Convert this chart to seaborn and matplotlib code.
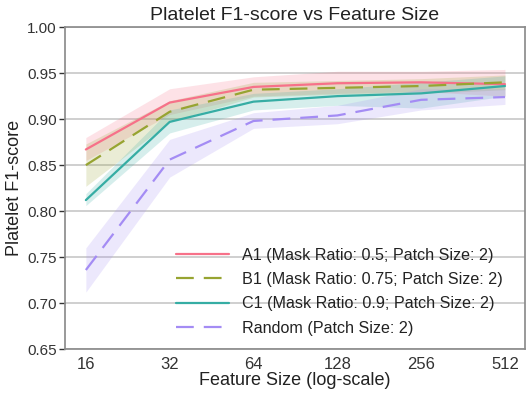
import matplotlib
matplotlib.use("Agg")
import matplotlib.pyplot as plt
import seaborn as sns
import pandas as pd

# Values
feature_sizes = [16, 32, 64, 128, 256, 512]
models = [
    "A1 (Mask Ratio: 0.5; Patch Size: 2)",
    "B1 (Mask Ratio: 0.75; Patch Size: 2)",
    "C1 (Mask Ratio: 0.9; Patch Size: 2)",
    "Random (Patch Size: 2)",
]
f1_a1 = [0.867, 0.918, 0.935, 0.939, 0.940, 0.938]
f1_b1 = [0.850, 0.908, 0.932, 0.934, 0.936, 0.940]
f1_c1 = [0.812, 0.897, 0.919, 0.925, 0.928, 0.936]
f1_rand = [0.736, 0.856, 0.898, 0.904, 0.921, 0.924]

low_a1 = [0.855, 0.905, 0.925, 0.928, 0.930, 0.925]
high_a1 = [0.880, 0.933, 0.946, 0.952, 0.952, 0.954]
low_b1 = [0.827, 0.897, 0.924, 0.927, 0.928, 0.932]
high_b1 = [0.873, 0.920, 0.940, 0.942, 0.944, 0.948]
low_c1 = [0.806, 0.885, 0.910, 0.915, 0.912, 0.925]
high_c1 = [0.819, 0.910, 0.928, 0.933, 0.940, 0.947]
low_rand = [0.712, 0.837, 0.890, 0.895, 0.910, 0.916]
high_rand = [0.760, 0.878, 0.907, 0.915, 0.933, 0.933]

means = [f1_a1, f1_b1, f1_c1, f1_rand]
lows = [low_a1, low_b1, low_c1, low_rand]
highs = [high_a1, high_b1, high_c1, high_rand]

sns.set_theme(style="ticks")
plt.rcParams["font.family"] = ["Liberation Sans", "DejaVu Sans"]
plt.rcParams.update({"axes.edgecolor": "#8c8c8c", "xtick.color": "#333333",
                     "ytick.color": "#333333", "text.color": "#222222",
                     "axes.labelcolor": "#222222"})

df = pd.DataFrame({
    "Feature Size": feature_sizes * len(models),
    "F1": [v for m in means for v in m],
    "Model": [m for m in models for _ in feature_sizes],
})

palette = dict(zip(models, sns.color_palette("husl", 4)))
dashes = {models[0]: "", models[1]: (8, 4.5), models[2]: "", models[3]: (8, 4.5)}

fig, ax = plt.subplots(figsize=(5.32, 3.99), dpi=100)
fig.subplots_adjust(left=0.122, right=0.987, top=0.932, bottom=0.125)

ax.yaxis.grid(True, color="#cfcfcf", linewidth=1.4)
ax.set_axisbelow(True)

for name, lo, hi in zip(models, lows, highs):
    ax.fill_between(feature_sizes, lo, hi, color=palette[name], alpha=0.2, linewidth=0)

sns.lineplot(data=df, x="Feature Size", y="F1", hue="Model", style="Model",
             palette=palette, dashes=dashes, linewidth=1.6, ax=ax)

ax.set_xscale("log", base=2)
ax.set_xticks(feature_sizes)
ax.set_xticklabels([str(s) for s in feature_sizes])
ax.minorticks_off()
ax.set_xlim(16 / 2 ** 0.25, 512 * 2 ** 0.24)
ax.set_ylim(0.65, 1.0)
ax.set_yticks([0.65, 0.70, 0.75, 0.80, 0.85, 0.90, 0.95, 1.00])
ax.tick_params(axis="x", length=0, labelsize=12, pad=6)
ax.tick_params(axis="y", length=4, width=1, labelsize=11, pad=2)

ax.set_title("Platelet F1-score vs Feature Size", fontsize=14, pad=5)
ax.set_xlabel("Feature Size (log-scale)", fontsize=13, labelpad=0)
ax.set_ylabel("Platelet F1-score", fontsize=13, labelpad=3)

leg = ax.legend(loc="lower right", bbox_to_anchor=(1 - 16 / 460, 7 / 322),
                frameon=False, fontsize=11.6, handlelength=3.3,
                labelspacing=0.58, borderaxespad=0)
for line in leg.get_lines():
    line.set_linewidth(1.6)

fig.savefig("out.png", dpi=100)
